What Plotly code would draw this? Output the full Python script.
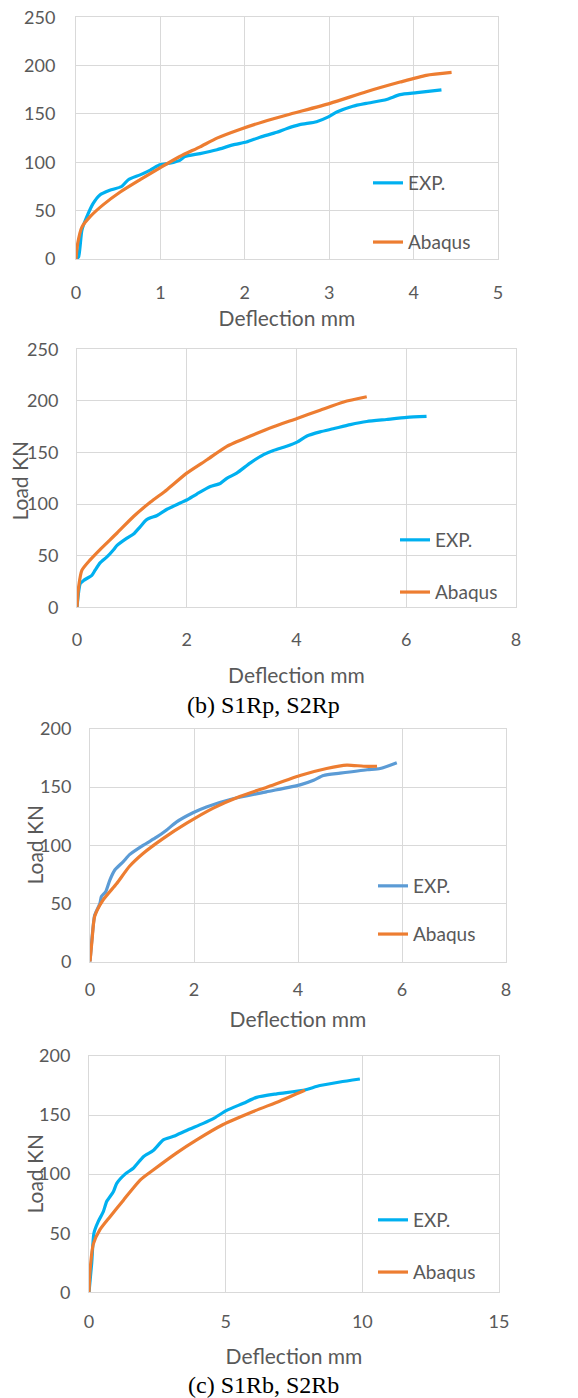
import plotly.graph_objects as go

# ---- Data ----
# Panel 1
p1_exp_x = [0, 0.03, 0.07, 0.13, 0.2, 0.28, 0.4, 0.54, 0.62, 0.76, 0.88, 0.98, 1.11, 1.23, 1.29, 1.47, 1.67, 1.86, 2.02, 2.18, 2.38, 2.5, 2.65, 2.85, 2.99, 3.09, 3.28, 3.44, 3.68, 3.84, 4.04, 4.33]
p1_exp_y = [0, 2, 30, 44, 57, 66, 71, 75, 82, 87, 92, 97, 99, 102, 106, 109, 113, 118, 121, 126, 131, 135, 139, 142, 147, 152, 158, 161, 165, 170, 172, 175]
p1_aba_x = [0, 0.02, 0.07, 0.17, 0.32, 0.52, 0.76, 0.99, 1.23, 1.47, 1.67, 1.94, 2.22, 2.5, 3.01, 3.44, 3.84, 4.15, 4.45]
p1_aba_y = [0, 16, 33, 44, 56, 69, 82, 94, 106, 116, 125, 134, 142, 149, 161, 173, 183, 190, 193]

# Panel 2
p2_exp_x = [0, 0.06, 0.12, 0.27, 0.33, 0.42, 0.55, 0.67, 0.73, 0.91, 1.03, 1.15, 1.27, 1.46, 1.64, 1.88, 2.0, 2.19, 2.43, 2.61, 2.73, 2.91, 3.16, 3.4, 3.58, 3.82, 4.01, 4.19, 4.43, 4.67, 4.98, 5.28, 5.64, 6.01, 6.37]
p2_exp_y = [0, 23, 26, 31, 36, 43, 49, 56, 60, 67, 71, 78, 85, 89, 95, 101, 104, 110, 117, 120, 125, 130, 140, 148, 152, 156, 160, 166, 170, 173, 177, 180, 182, 184, 185]
p2_aba_x = [0, 0.03, 0.09, 0.24, 0.42, 0.73, 1.03, 1.34, 1.64, 2.0, 2.37, 2.73, 3.16, 3.58, 4.01, 4.43, 4.86, 5.28]
p2_aba_y = [0, 20, 36, 46, 56, 72, 88, 102, 114, 130, 143, 156, 166, 175, 183, 191, 199, 204]

# Panel 3
p3_exp_x = [0, 0.04, 0.09, 0.19, 0.22, 0.3, 0.38, 0.48, 0.64, 0.76, 1.02, 1.28, 1.47, 1.66, 1.98, 2.24, 2.75, 3.39, 4.04, 4.3, 4.49, 4.81, 5.33, 5.58, 5.9]
p3_exp_y = [0, 21, 40, 50, 56, 60, 70, 79, 86, 92, 100, 107, 113, 120, 128, 133, 140, 146, 152, 156, 160, 162, 165, 166, 171]
p3_aba_x = [0, 0.04, 0.09, 0.25, 0.51, 0.76, 1.02, 1.41, 1.86, 2.37, 2.88, 3.4, 4.04, 4.55, 4.94, 5.26, 5.52]
p3_aba_y = [0, 19, 39, 53, 67, 82, 93, 106, 119, 132, 142, 150, 160, 166, 169, 168, 168]

# Panel 4
p4_exp_x = [0, 0.1, 0.18, 0.34, 0.52, 0.65, 0.89, 1.01, 1.32, 1.62, 2.0, 2.35, 2.72, 3.09, 3.57, 4.18, 4.55, 5.04, 5.65, 6.13, 6.87, 7.84, 8.45, 9.18, 9.91]
p4_exp_y = [0, 25, 50, 60, 68, 77, 85, 92, 100, 105, 115, 120, 129, 132, 137, 143, 147, 154, 160, 165, 168, 171, 175, 178, 180.5]
p4_aba_x = [0, 0.04, 0.16, 0.4, 0.77, 1.26, 1.87, 2.35, 3.21, 3.94, 4.91, 6.01, 6.99, 7.9]
p4_aba_y = [0, 19, 41, 53, 64, 78, 95, 103.5, 118, 129, 142, 153, 162, 171]

series_names = ["EXP.", "Abaqus"]
captions = ["(b) S1Rp, S2Rp", "(c) S1Rb, S2Rb"]
x_titles = ["Deflection mm"] * 4
y_titles = ["", "Load KN", "Load KN", "Load KN"]

# ---- Styling ----
W, H = 578, 1398
OFF = 0  # page body margin is removed below, so figure pixels = page pixels
TXT = "#595959"
GRID = "#d9d9d9"
BLUE = "#00b0f0"
BLUE2 = "#5b9bd5"
ORANGE = "#ed7d31"
FONT = "Lato"
TICK_SIZE = 18
TITLE_SIZE = 21
LEG_SIZE = 19

def px_x(v):
    return (v - OFF) / W

def px_y(v):
    return 1 - (v - OFF) / H

panels = [
    dict(exp=(p1_exp_x, p1_exp_y), aba=(p1_aba_x, p1_aba_y), color=BLUE,
         xd=(76, 498), yd=(17.3, 259), xr=(0, 5), xdt=1, yr=(0, 250),
         legy=(183, 243), legtx=408, xts=17, xtt=9, yts=16, ytitle=None),
    dict(exp=(p2_exp_x, p2_exp_y), aba=(p2_aba_x, p2_aba_y), color=BLUE,
         xd=(77, 516), yd=(349.3, 607.3), xr=(0, 8), xdt=2, yr=(0, 250),
         legy=(540, 593), legtx=435, xts=16, xtt=19, yts=14, ytitle=(18.5, 481)),
    dict(exp=(p3_exp_x, p3_exp_y), aba=(p3_aba_x, p3_aba_y), color=BLUE2,
         xd=(90, 506), yd=(729, 961.7), xr=(0, 8), xdt=2, yr=(0, 200),
         legy=(886, 935), legtx=413, xts=12, xtt=13, yts=14, ytitle=(33.5, 845)),
    dict(exp=(p4_exp_x, p4_exp_y), aba=(p4_aba_x, p4_aba_y), color=BLUE,
         xd=(89, 499), yd=(1056, 1292.3), xr=(0, 15), xdt=5, yr=(0, 200),
         legy=(1220, 1273), legtx=413, xts=13, xtt=18, yts=14, ytitle=(33.5, 1174)),
]

fig = go.Figure()
layout = dict(
    width=W, height=H, margin=dict(l=0, r=0, t=0, b=0, autoexpand=False),
    paper_bgcolor="white", plot_bgcolor="white",
    font=dict(family=FONT, size=TICK_SIZE, color=TXT),
    showlegend=True,
)
annotations = []

ITEM_H = 28.5
for i, p in enumerate(panels):
    n = i + 1
    sfx = "" if n == 1 else str(n)
    legname = "legend" if n == 1 else f"legend{n}"
    for j, (key, col) in enumerate([("exp", p["color"]), ("aba", ORANGE)]):
        xs, ys = p[key]
        fig.add_trace(go.Scatter(
            x=xs, y=ys, mode="lines", name=series_names[j],
            line=dict(color=col, width=3.2, shape="spline", smoothing=0.6),
            xaxis="x" + sfx, yaxis="y" + sfx,
            legend=legname, legendgroup=f"g{n}{j}",
            hoverinfo="skip",
        ))
    gap = p["legy"][1] - p["legy"][0] - ITEM_H
    layout[legname] = dict(
        x=px_x(p["legtx"] - 40), y=px_y(p["legy"][0] - 19), xanchor="left", yanchor="top",
        bgcolor="rgba(0,0,0,0)", font=dict(family=FONT, size=LEG_SIZE, color=TXT),
        tracegroupgap=gap, itemwidth=30,
    )
    layout["xaxis" + sfx] = dict(
        domain=[px_x(p["xd"][0]), px_x(p["xd"][1])], anchor="y" + sfx,
        range=list(p["xr"]), dtick=p["xdt"], tick0=0, automargin=False,
        showgrid=True, gridcolor=GRID, gridwidth=1, zeroline=False,
        showline=True, linecolor=GRID, linewidth=1, mirror=True,
        ticks="", ticklabelstandoff=p["xts"], ticklabeloverflow="allow",
        tickfont=dict(family=FONT, size=TICK_SIZE, color=TXT),
        title=dict(text=x_titles[i], font=dict(family=FONT, size=TITLE_SIZE, color=TXT), standoff=p["xtt"]),
        fixedrange=True,
    )
    layout["yaxis" + sfx] = dict(
        domain=[px_y(p["yd"][1]), px_y(p["yd"][0])], anchor="x" + sfx,
        range=list(p["yr"]), dtick=50, tick0=0, automargin=False,
        showgrid=True, gridcolor=GRID, gridwidth=1, zeroline=False,
        showline=True, linecolor=GRID, linewidth=1, mirror=True,
        ticks="", ticklabelstandoff=p["yts"], ticklabeloverflow="allow",
        tickfont=dict(family=FONT, size=TICK_SIZE, color=TXT),
        fixedrange=True,
    )
    if p["ytitle"] is not None and y_titles[i]:
        annotations.append(dict(
            text=y_titles[i], x=px_x(p["ytitle"][0]), y=px_y(p["ytitle"][1]),
            xref="paper", yref="paper", showarrow=False, textangle=-90,
            xanchor="center", yanchor="middle",
            font=dict(family=FONT, size=TITLE_SIZE, color=TXT),
        ))

for cap, cy in zip(captions, [705, 1385]):
    annotations.append(dict(
        text=cap, x=px_x(263), y=px_y(cy), xref="paper", yref="paper",
        showarrow=False, xanchor="center", yanchor="middle",
        font=dict(family="Liberation Serif", size=24, color="black"),
    ))
layout["annotations"] = annotations

fig.update_layout(**layout)
fig.write_html(
    "out.html",
    config={"displayModeBar": False, "staticPlot": True},
    post_script="document.body.style.margin='0px';document.body.style.overflow='hidden';",
)
